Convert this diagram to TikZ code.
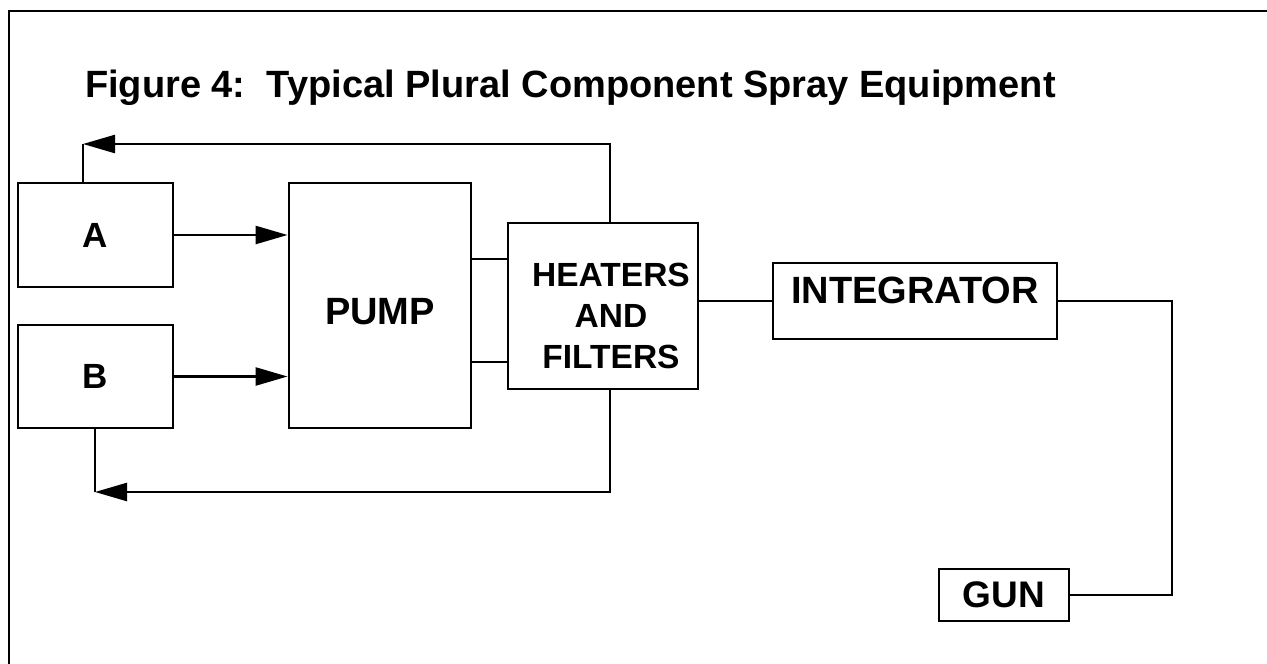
\documentclass[tikz,border=0pt]{standalone}
\usepackage{fontspec}
\setmainfont{Liberation Sans}
\usetikzlibrary{arrows.meta}
\tikzset{
  box/.style={draw, line width=2.9pt, inner sep=0pt, font=\bfseries, align=center},
  wire/.style={line width=2.5pt},
  arr/.style={wire, -{Triangle[length=32pt,width=18pt]}},
  frameline/.style={line width=2.8pt}
}
\begin{document}
\begin{tikzpicture}[x=1pt,y=-1pt]
\useasboundingbox (0,0) rectangle (1267,664);
% frame
\draw[frameline] (9,664) -- (9,11) -- (1267,11);
% title
\node[anchor=base west, inner sep=0pt, font=\bfseries\fontsize{38}{40}\selectfont] (title) at (85,97) {Figure 4:\ \ Typical Plural Component Spray Equipment};
% boxes
\node[box, minimum width=155pt, minimum height=104pt, font=\bfseries\fontsize{35}{40}\selectfont] (A) at (95.5,235) {A};
\node[box, minimum width=155pt, minimum height=103pt, font=\bfseries\fontsize{35}{40}\selectfont] (B) at (95.5,376.5) {B};
\node[box, minimum width=182pt, minimum height=245pt, font=\bfseries\fontsize{38}{40}\selectfont, text height=45pt, text depth=7pt] (pump) at (380,305.5) {PUMP};
\node[box, minimum width=190pt, minimum height=166pt] (heat) at (603,306) {};
\node[inner sep=0pt, align=center, font=\bfseries\fontsize{33.5}{41}\selectfont] (heattxt) at (611,316) {HEATERS\\AND\\FILTERS};
\node[box, minimum width=284pt, minimum height=76pt, font=\bfseries\fontsize{38}{40}\selectfont, text height=27pt, text depth=22pt] (integ) at (915,301) {INTEGRATOR};
\node[box, minimum width=130pt, minimum height=52pt, font=\bfseries\fontsize{37}{40}\selectfont] (gun) at (1004,595) {GUN};
% helper coordinates
\coordinate (t1) at (0,259);
\coordinate (t2) at (0,362);
\coordinate (hx) at (610,0);
\coordinate (c1) at (83,144);
\coordinate (c2) at (95,492);
\coordinate (rc) at (1172,301);
% connectors
\draw[arr] (A.east) -- (A.east -| pump.west);
\draw[arr] (B.east) -- (B.east -| pump.west);
\draw[wire] (pump.east |- t1) -- (heat.west |- t1);
\draw[wire] (pump.east |- t2) -- (heat.west |- t2);
\draw[arr] (heat.north -| hx) |- (c1);
\draw[wire] (c1) -- (c1 |- A.north);
\draw[arr] (heat.south -| hx) |- (c2);
\draw[wire] (c2) -- (c2 |- B.south);
\draw[wire] (heat.east |- integ.west) -- (integ.west);
\draw[wire] (integ.east) -- (rc) |- (gun.east);
\end{tikzpicture}
\end{document}
